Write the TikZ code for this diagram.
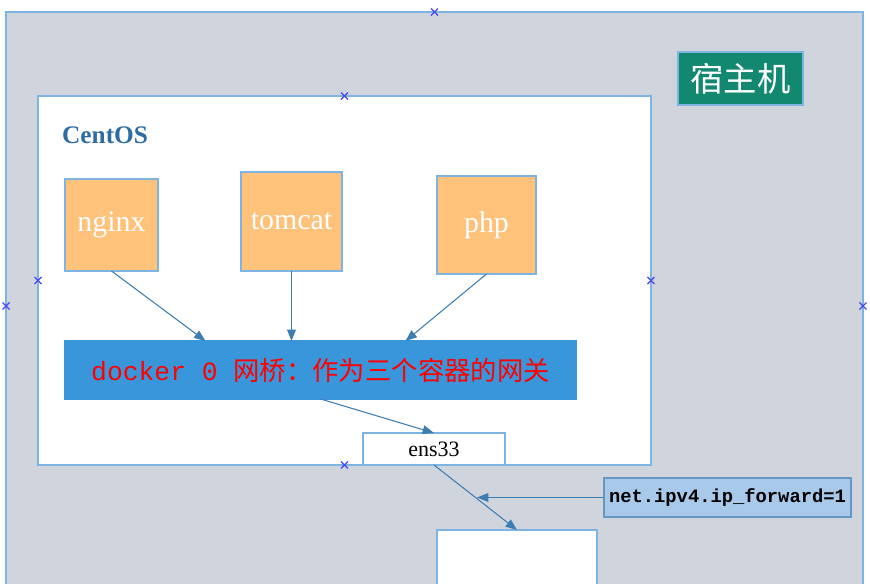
\documentclass[tikz,border=0pt]{standalone}
\usepackage{fontspec}
\setmainfont{Liberation Serif}
\setmonofont{Liberation Mono}
\newfontfamily\cjk{Noto Sans CJK SC}
\usetikzlibrary{arrows.meta, calc, positioning}
\definecolor{hostGray}{HTML}{D0D5DD}
\definecolor{edgeBlue}{HTML}{7DB4E2}
\definecolor{arrowBlue}{HTML}{3D7DB3}
\definecolor{appOrange}{HTML}{FFC27A}
\definecolor{bridgeBlue}{HTML}{3A96DA}
\definecolor{hostTeal}{HTML}{138871}
\definecolor{osBlue}{HTML}{2E6DA4}
\definecolor{sysctlBlue}{HTML}{A9C9EB}
\definecolor{handleBlue}{HTML}{4646F0}

\begin{document}
\begin{tikzpicture}[
        x=0.02cm, y=-0.02cm,
        frame/.style={
            draw=edgeBlue,
            line width=0.8pt,
            inner sep=0pt,
            outer sep=0pt
        },
        appbox/.style={
            frame,
            fill=appOrange,
            text=white,
            font=\fontsize{17}{20}\selectfont
        },
        link/.style={
            draw=arrowBlue,
            line width=0.6pt,
            -{Triangle[length=6.5pt,width=5pt]}
        },
        handle/.style={
            draw=handleBlue,
            line width=0.7pt
        }
    ]
    \useasboundingbox (0,0) rectangle (870,584);
    \clip (0,0) rectangle (870,584);

    % Host and virtual machine
    \node[frame, fill=hostGray, minimum width=17.14cm, minimum height=11.76cm]
        (host) at (434.5,306) {};
    \node[frame, fill=hostTeal, text=white, minimum width=2.5cm, minimum height=1.06cm,
        font=\cjk\fontsize{19}{22}\selectfont] (hostlabel) at (740.5,78.5) {宿主机};
    \node[frame, fill=white, minimum width=12.26cm, minimum height=7.38cm]
        (centos) at (344.5,280.5) {};
    \node[anchor=west, text=osBlue, font=\bfseries\fontsize{14.4}{17}\selectfont]
        (oslabel) at (56,135) {CentOS};

    % Containers
    \node[appbox, minimum width=1.86cm, minimum height=1.84cm] (nginx) at (111.5,225) {nginx};
    \node[appbox, minimum width=2.02cm, minimum height=1.98cm] (tomcat) at (291.5,221.5) {tomcat};
    \node[appbox, minimum width=1.98cm, minimum height=1.96cm] (php) at (486.5,225) {php};

    \node[frame, draw=bridgeBlue, fill=bridgeBlue, text=red, minimum width=10.22cm,
        minimum height=1.16cm, font=\fontsize{15}{18}\selectfont]
        (docker) at (320.5,370) {\ttfamily docker 0 \cjk 网桥：作为三个容器的网关};

    \node[frame, fill=white, minimum width=2.84cm, minimum height=0.64cm,
        font=\fontsize{12.5}{15}\selectfont] (ens) at (434,449) {ens33};
    \node[frame, fill=white, minimum width=3.2cm, minimum height=1.8cm] (out) at (517,575) {};
    \node[frame, draw=arrowBlue!80, fill=sysctlBlue, minimum width=4.94cm, minimum height=0.78cm,
        font=\ttfamily\bfseries\fontsize{10.7}{13}\selectfont]
        (sysctl) at (727.5,497.5) {net.ipv4.ip\_forward=1};

    \coordinate (fwd) at (477,497.5);

    % Connectors
    \draw[link] (nginx.south) -- ($(docker.north)+(-115,0)$);
    \draw[link] (tomcat.south) -- (tomcat.south |- docker.north);
    \draw[link] (php.south) -- ($(docker.north)+(85,0)$);
    \draw[link] (docker.south) -- (ens.north);
    \draw[link] (ens.south) -- (out.north);
    \draw[link] (sysctl.west) -- (fwd);

    % Selection handles
    \foreach \p in {host.north, host.west, host.east,
                    centos.north, centos.south, centos.west, centos.east}
        \draw[handle] (\p) +(-3.5,-3.5) -- +(3.5,3.5) +(-3.5,3.5) -- +(3.5,-3.5);
\end{tikzpicture}
\end{document}
